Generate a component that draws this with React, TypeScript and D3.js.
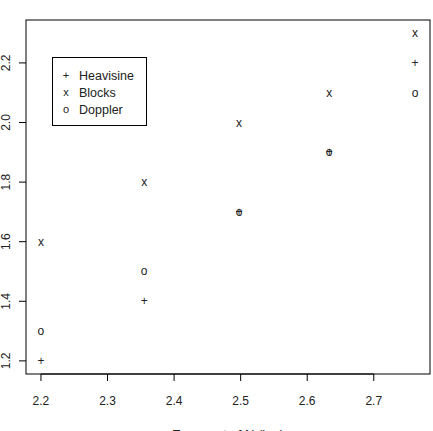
import React from "react";
import * as d3 from "d3";

const xValues = [2.2, 2.355, 2.4975, 2.633, 2.762];
const heavisine = [1.2, 1.4, 1.7, 1.9, 2.2];
const blocks = [1.6, 1.8, 2.0, 2.1, 2.3];
const doppler = [1.3, 1.5, 1.7, 1.9, 2.1];
const xTicks = [2.2, 2.3, 2.4, 2.5, 2.6, 2.7];
const yTicks = [1.2, 1.4, 1.6, 1.8, 2.0, 2.2];
const seriesNames = ["Heavisine", "Blocks", "Doppler"];
const seriesSymbols = ["+", "x", "o"];
const xLabel = "Exponent of N (log)";

const W = 433;
const H = 431;
const left = 26;
const right = 430;
const top = 20;
const bottom = 374;
const font = "Liberation Sans, Arial, Helvetica, sans-serif";

export default function App() {
  const allY = [...heavisine, ...blocks, ...doppler];
  const xExt = d3.extent(xValues) as [number, number];
  const yExt = d3.extent(allY) as [number, number];
  const xPad = (xExt[1] - xExt[0]) * 0.04;
  const yPad = (yExt[1] - yExt[0]) * 0.04;
  const x = d3.scaleLinear().domain([xExt[0] - xPad, xExt[1] + xPad]).range([left, right]);
  const y = d3.scaleLinear().domain([yExt[0] - yPad, yExt[1] + yPad]).range([bottom, top]);
  const series = [heavisine, blocks, doppler];
  const fmt = d3.format(".1f");

  return (
    <svg
      width={W}
      height={H}
      style={{ position: "absolute", left: 0, top: 0, background: "#fff" }}
      fontFamily={font}
    >
      <rect x={left} y={top} width={right - left} height={bottom - top} fill="none" stroke="#000" strokeWidth={1} />
      {/* x axis */}
      <line x1={x(xTicks[0])} x2={x(xTicks[xTicks.length - 1])} y1={bottom} y2={bottom} stroke="#000" />
      {xTicks.map((t) => (
        <g key={"xt" + t}>
          <line x1={x(t)} x2={x(t)} y1={bottom} y2={bottom + 7} stroke="#000" />
          <text x={x(t)} y={405} fontSize={12} textAnchor="middle" fill="#222">
            {fmt(t)}
          </text>
        </g>
      ))}
      {/* y axis */}
      {yTicks.map((t) => (
        <g key={"yt" + t}>
          <line x1={left - 7} x2={left} y1={y(t)} y2={y(t)} stroke="#000" />
          <text
            transform={`translate(${9.5},${y(t)}) rotate(-90)`}
            fontSize={12}
            textAnchor="middle"
            fill="#222"
          >
            {fmt(t)}
          </text>
        </g>
      ))}
      <text x={(left + right) / 2} y={438.5} fontSize={13} textAnchor="middle" fill="#222">
        {xLabel}
      </text>
      {/* points */}
      {series.map((s, si) =>
        s.map((v, i) => (
          <text
            key={si + "-" + i}
            x={x(xValues[i])}
            y={y(v) + 4}
            fontSize={12}
            textAnchor="middle"
            fill="#222"
          >
            {seriesSymbols[si]}
          </text>
        ))
      )}
      {/* legend */}
      <rect x={52.5} y={57.5} width={94} height={68} fill="#fff" stroke="#000" />
      {seriesNames.map((n, i) => (
        <g key={n}>
          <text x={66} y={79 + i * 17} fontSize={11} textAnchor="middle" fill="#222">
            {seriesSymbols[i]}
          </text>
          <text x={79} y={80 + i * 17} fontSize={12.5} fill="#222">
            {n}
          </text>
        </g>
      ))}
    </svg>
  );
}
